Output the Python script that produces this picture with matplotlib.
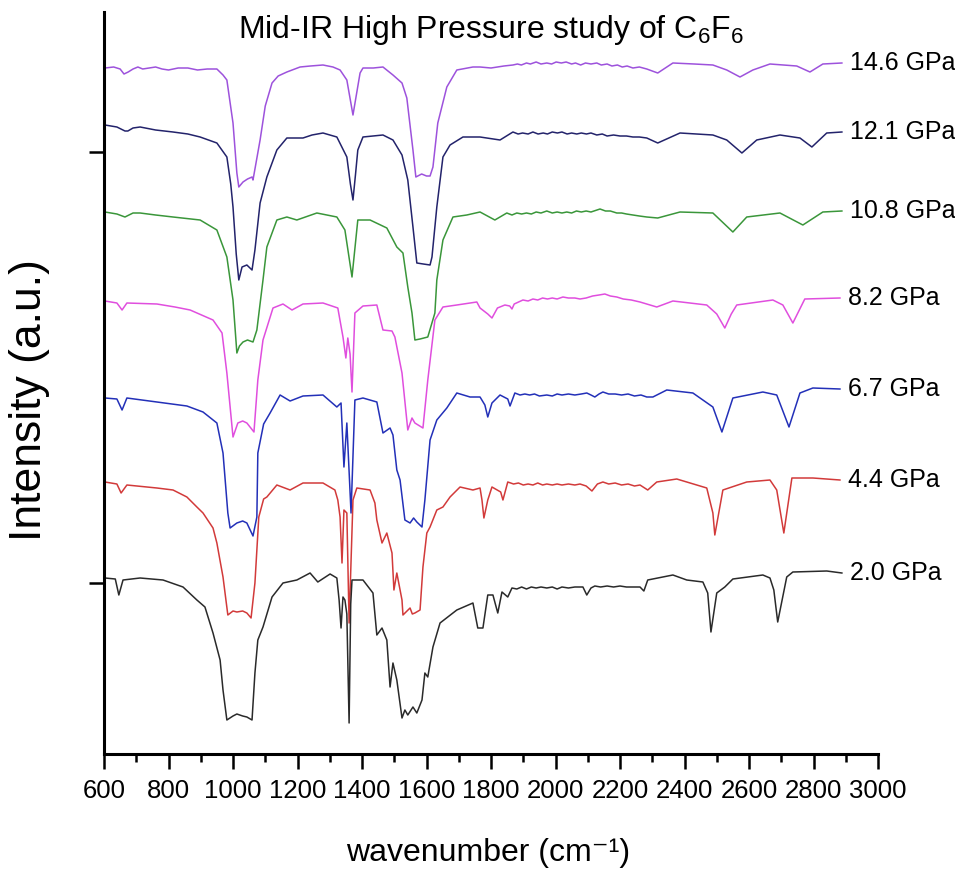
import matplotlib
matplotlib.use("Agg")
import matplotlib.pyplot as plt
from matplotlib.ticker import MultipleLocator, NullFormatter

# ---- data (wavenumber cm^-1, intensity a.u.) ----
labels = ["14.6 GPa", "12.1 GPa", "10.8 GPa", "8.2 GPa", "6.7 GPa", "4.4 GPa", "2.0 GPa"]
colors = ["#9d52dc", "#23236b", "#3a963a", "#e04ede", "#2330b8", "#d23a3a", "#2a2a2a"]

spec_146 = [(603, 686), (630, 687), (650, 685), (662, 680), (675, 682), (690, 685), (705, 687),
            (720, 685), (740, 686), (760, 687), (780, 685), (800, 684), (830, 686), (860, 686),
            (890, 684), (920, 685), (950, 685), (969, 679), (981, 674), (1000, 631),
            (1012, 581), (1018, 567), (1031, 572), (1045, 575), (1059, 577), (1062, 574),
            (1084, 614), (1100, 648), (1121, 671), (1140, 678), (1167, 682), (1208, 687),
            (1240, 688), (1279, 689), (1310, 687), (1332, 684), (1353, 674), (1372, 639),
            (1394, 681), (1403, 686), (1435, 686), (1465, 687), (1496, 679), (1524, 671),
            (1539, 656), (1558, 604), (1567, 577), (1585, 580), (1600, 578), (1611, 578),
            (1620, 587), (1635, 631), (1663, 667), (1694, 684), (1744, 687), (1766, 687),
            (1800, 686), (1840, 688), (1868, 689), (1882, 690), (1894, 689), (1910, 691),
            (1922, 690), (1940, 692), (1955, 690), (1973, 691), (1988, 690), (2002, 692),
            (2018, 691), (2033, 692), (2050, 690), (2062, 691), (2078, 689), (2093, 691),
            (2110, 690), (2128, 691), (2142, 689), (2160, 690), (2175, 688), (2192, 689),
            (2207, 687), (2222, 688), (2240, 686), (2260, 687), (2283, 685), (2317, 681),
            (2364, 691), (2430, 690), (2488, 689), (2531, 684), (2572, 677), (2612, 684),
            (2665, 690), (2748, 688), (2789, 682), (2829, 690), (2888, 691)]

spec_121 = [(603, 629), (640, 627), (665, 623), (674, 623), (690, 626), (712, 627), (760, 624),
            (814, 622), (860, 620), (898, 617), (950, 611), (981, 597), (993, 570), (1000, 547),
            (1010, 500), (1018, 474), (1028, 487), (1043, 489), (1059, 484), (1068, 504),
            (1084, 551), (1105, 577), (1136, 604), (1167, 616), (1217, 616), (1245, 619),
            (1279, 621), (1322, 617), (1353, 597), (1364, 570), (1372, 554), (1380, 580),
            (1387, 604), (1403, 617), (1465, 619), (1496, 614), (1524, 599), (1542, 574),
            (1558, 527), (1570, 491), (1590, 490), (1611, 489), (1617, 497), (1632, 547),
            (1651, 597), (1673, 609), (1713, 617), (1766, 617), (1828, 614), (1868, 622),
            (1884, 620), (1898, 621), (1915, 620), (1930, 622), (1946, 620), (1962, 621),
            (1975, 620), (1990, 622), (2006, 621), (2020, 622), (2036, 620), (2050, 621),
            (2066, 620), (2080, 621), (2096, 620), (2110, 621), (2128, 619), (2145, 620),
            (2160, 618), (2180, 619), (2200, 618), (2220, 618), (2240, 617), (2260, 617),
            (2283, 616), (2317, 611), (2386, 621), (2488, 619), (2531, 614), (2578, 601),
            (2624, 614), (2696, 619), (2758, 616), (2795, 607), (2841, 621), (2888, 622)]

spec_108 = [(603, 542), (640, 540), (665, 537), (690, 541), (712, 541), (760, 539), (814, 537),
            (898, 534), (950, 524), (981, 497), (1000, 454), (1012, 401), (1020, 408),
            (1031, 412), (1045, 414), (1062, 412), (1074, 424), (1093, 474), (1105, 507),
            (1136, 534), (1167, 537), (1198, 534), (1260, 541), (1322, 537), (1347, 524),
            (1369, 477), (1387, 534), (1425, 534), (1477, 526), (1508, 507), (1527, 501),
            (1542, 467), (1555, 441), (1564, 414), (1580, 415), (1604, 417), (1626, 441),
            (1632, 474), (1651, 514), (1682, 537), (1725, 539), (1766, 542), (1812, 534),
            (1849, 541), (1865, 539), (1880, 541), (1895, 540), (1910, 541), (1925, 540),
            (1940, 542), (1955, 541), (1973, 543), (1990, 541), (2005, 542), (2020, 541),
            (2035, 542), (2050, 541), (2065, 543), (2080, 542), (2095, 543), (2110, 542),
            (2138, 545), (2155, 543), (2170, 543), (2190, 541), (2205, 541), (2220, 540),
            (2240, 539), (2260, 538), (2283, 537), (2317, 536), (2386, 542), (2488, 541),
            (2550, 522), (2593, 537), (2696, 541), (2767, 529), (2829, 542), (2888, 543)]

spec_82 = [(603, 453), (640, 451), (656, 444), (671, 451), (764, 450), (820, 447), (867, 444),
           (938, 434), (966, 421), (981, 381), (1000, 317), (1015, 331), (1030, 333),
           (1043, 331), (1065, 322), (1077, 374), (1093, 414), (1124, 446), (1155, 450),
           (1183, 444), (1217, 450), (1279, 451), (1325, 446), (1341, 417), (1350, 396),
           (1356, 416), (1363, 400), (1369, 362), (1378, 441), (1403, 448), (1446, 449),
           (1465, 424), (1493, 423), (1502, 417), (1524, 381), (1542, 324), (1555, 336),
           (1564, 331), (1589, 326), (1604, 374), (1626, 434), (1651, 447), (1694, 449),
           (1756, 452), (1766, 446), (1790, 440), (1803, 436), (1820, 446), (1843, 449),
           (1858, 448), (1865, 445), (1872, 450), (1899, 454), (1915, 453), (1930, 455),
           (1945, 454), (1960, 456), (1975, 455), (1990, 456), (2005, 455), (2023, 457),
           (2040, 456), (2060, 456), (2076, 455), (2095, 456), (2115, 458), (2135, 459),
           (2153, 460), (2170, 458), (2190, 457), (2210, 455), (2235, 454), (2262, 452),
           (2314, 447), (2364, 453), (2469, 449), (2500, 440), (2525, 426), (2545, 440),
           (2562, 449), (2674, 454), (2705, 449), (2736, 431), (2773, 455), (2882, 456)]

spec_67 = [(603, 356), (640, 355), (656, 344), (671, 356), (764, 352), (857, 348), (907, 342),
           (950, 331), (969, 301), (984, 241), (991, 226), (1012, 231), (1030, 233), (1043, 231),
           (1062, 218), (1074, 237), (1077, 301), (1095, 330), (1115, 341), (1146, 359),
           (1177, 353), (1217, 358), (1279, 359), (1322, 347), (1335, 351), (1344, 287),
           (1353, 331), (1366, 241), (1378, 354), (1403, 356), (1446, 352), (1465, 321),
           (1487, 326), (1496, 319), (1508, 284), (1518, 274), (1533, 234), (1549, 231),
           (1560, 236), (1570, 232), (1586, 227), (1595, 254), (1611, 314), (1632, 334),
           (1663, 346), (1694, 361), (1735, 357), (1766, 357), (1781, 349), (1790, 337),
           (1803, 351), (1828, 359), (1852, 355), (1859, 348), (1874, 361), (1890, 359),
           (1905, 360), (1920, 359), (1935, 360), (1950, 358), (1973, 359), (1990, 358),
           (2005, 360), (2020, 359), (2040, 360), (2060, 359), (2080, 360), (2097, 361),
           (2110, 359), (2122, 357), (2135, 360), (2147, 362), (2165, 360), (2185, 360),
           (2205, 359), (2225, 360), (2245, 358), (2265, 359), (2283, 357), (2302, 357),
           (2345, 364), (2426, 361), (2488, 347), (2516, 322), (2550, 356), (2643, 362),
           (2686, 359), (2724, 327), (2758, 361), (2798, 366), (2882, 365)]

spec_44 = [(603, 272), (640, 270), (653, 261), (671, 269), (764, 266), (814, 264), (857, 257),
           (888, 247), (907, 241), (938, 226), (950, 211), (969, 177), (984, 139), (1000, 143),
           (1012, 142), (1030, 143), (1043, 141), (1056, 136), (1068, 171), (1080, 237),
           (1095, 255), (1105, 257), (1136, 269), (1177, 264), (1217, 271), (1279, 271),
           (1316, 264), (1325, 254), (1332, 237), (1338, 191), (1344, 244), (1353, 241),
           (1360, 131), (1372, 254), (1384, 266), (1425, 264), (1440, 251), (1446, 234),
           (1462, 211), (1477, 221), (1493, 201), (1499, 164), (1508, 181), (1524, 154),
           (1527, 139), (1549, 146), (1556, 140), (1564, 141), (1580, 144), (1589, 187),
           (1601, 221), (1611, 227), (1632, 244), (1651, 247), (1673, 257), (1704, 267),
           (1744, 264), (1766, 266), (1772, 254), (1778, 236), (1790, 254), (1803, 267),
           (1830, 262), (1837, 254), (1852, 272), (1870, 270), (1885, 271), (1900, 269),
           (1915, 270), (1930, 269), (1945, 271), (1960, 269), (1973, 270), (1990, 269),
           (2005, 270), (2020, 269), (2040, 270), (2060, 269), (2076, 270), (2095, 268),
           (2113, 263), (2130, 270), (2147, 272), (2165, 270), (2185, 271), (2205, 269),
           (2225, 270), (2245, 268), (2262, 269), (2286, 264), (2314, 272), (2376, 275),
           (2469, 266), (2488, 241), (2494, 219), (2519, 264), (2593, 272), (2665, 274),
           (2686, 264), (2708, 221), (2733, 276), (2798, 276), (2882, 274)]

spec_20 = [(603, 176), (635, 175), (646, 159), (659, 174), (712, 176), (783, 174), (845, 167),
           (888, 154), (913, 147), (938, 121), (960, 94), (969, 64), (981, 34), (1000, 38),
           (1012, 40), (1030, 38), (1043, 37), (1059, 34), (1068, 81), (1077, 114), (1093, 127),
           (1121, 157), (1155, 171), (1198, 174), (1239, 181), (1263, 172), (1301, 180),
           (1322, 176), (1329, 154), (1335, 126), (1341, 157), (1347, 154), (1353, 140),
           (1360, 31), (1365, 150), (1369, 174), (1403, 174), (1434, 161), (1446, 119),
           (1462, 126), (1477, 114), (1487, 67), (1496, 91), (1508, 74), (1524, 36), (1533, 44),
           (1542, 39), (1558, 47), (1570, 41), (1586, 54), (1595, 81), (1604, 77), (1620, 107),
           (1642, 131), (1694, 144), (1744, 151), (1759, 126), (1775, 126), (1790, 159),
           (1806, 159), (1821, 141), (1834, 162), (1852, 157), (1865, 166), (1880, 165),
           (1895, 167), (1910, 165), (1925, 167), (1940, 166), (1955, 167), (1973, 166),
           (1990, 167), (2005, 165), (2020, 167), (2040, 166), (2060, 167), (2085, 167),
           (2097, 159), (2110, 166), (2122, 168), (2140, 167), (2160, 168), (2180, 167),
           (2200, 168), (2220, 167), (2240, 167), (2262, 167), (2274, 163), (2286, 174),
           (2364, 179), (2407, 174), (2457, 172), (2472, 161), (2482, 122), (2500, 161),
           (2525, 167), (2550, 175), (2643, 179), (2665, 176), (2677, 164), (2689, 132),
           (2717, 177), (2736, 182), (2841, 183), (2888, 181)]

spectra = [spec_146, spec_121, spec_108, spec_82, spec_67, spec_44, spec_20]

xticks_major = list(range(600, 3001, 200))
yticks = [171, 602]

# ---- style ----
SANS = ["Liberation Sans", "DejaVu Sans"]
plt.rcParams["font.family"] = SANS
plt.rcParams["mathtext.fontset"] = "custom"
plt.rcParams["mathtext.rm"] = "Liberation Sans"
plt.rcParams["mathtext.it"] = "Liberation Sans:italic"
plt.rcParams["mathtext.bf"] = "Liberation Sans:bold"

W, H = 955, 877
fig = plt.figure(figsize=(W / 100, H / 100), dpi=100)
ax = fig.add_axes([104 / W, (H - 754) / H, (878 - 104) / W, (754 - 12) / H])

for spec, col, lab in zip(spectra, colors, labels):
    xs = [p[0] for p in spec]
    ys = [p[1] for p in spec]
    ax.plot(xs, ys, color=col, lw=1.1)
    ax.annotate(lab, xy=(xs[-1], ys[-1]), xytext=(6, 0), textcoords="offset points",
                va="center", ha="left", fontsize=18, color="black", annotation_clip=False)

ax.set_xlim(600, 3000)
ax.set_ylim(0, 742)
ax.set_xticks(xticks_major)
ax.xaxis.set_minor_locator(MultipleLocator(100))
ax.set_yticks(yticks)
ax.yaxis.set_major_formatter(NullFormatter())
ax.tick_params(axis="x", which="major", direction="out", length=11, width=1.8,
               labelsize=18.5, pad=7)
ax.tick_params(axis="x", which="minor", direction="out", length=6, width=1.8)
ax.tick_params(axis="y", which="major", direction="out", length=11, width=1.8)
for s in ["top", "right"]:
    ax.spines[s].set_visible(False)
for s in ["left", "bottom"]:
    ax.spines[s].set_linewidth(2.2)

fig.text(491 / W, 1 - 30 / H, "Mid-IR High Pressure study of C$_6$F$_6$",
         ha="center", va="center", fontsize=23)
fig.text(488 / W, 1 - 853 / H, "wavenumber (cm\u207b\u00b9)", ha="center", va="center",
         fontsize=23)
fig.text(29 / W, 1 - 400 / H, "Intensity (a.u.)", ha="center", va="center", rotation=90,
         fontsize=32)

fig.savefig("out.png", dpi=100, facecolor="white")
